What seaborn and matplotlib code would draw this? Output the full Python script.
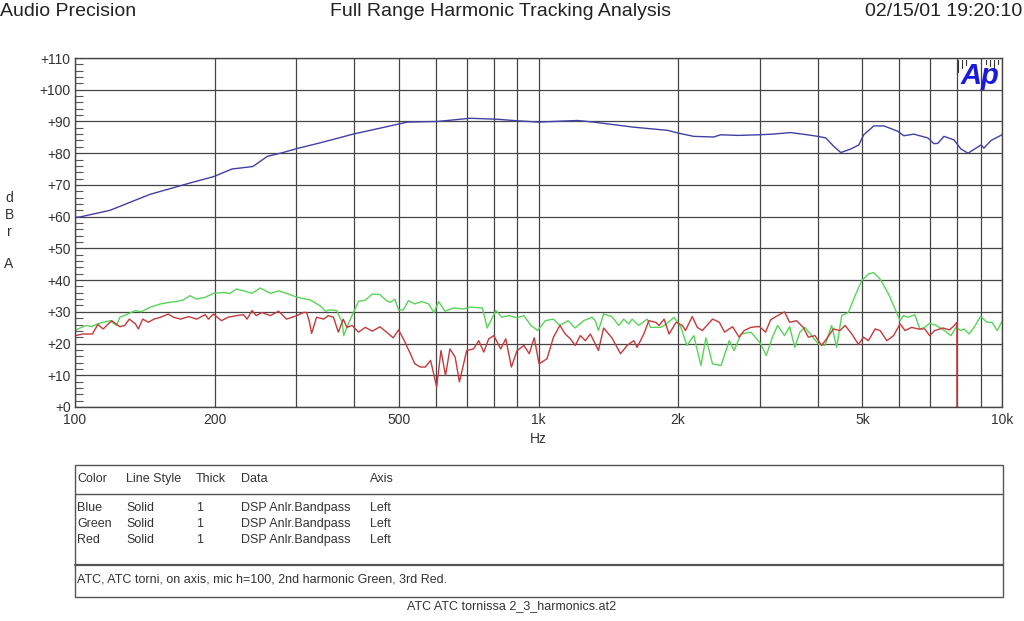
import numpy as np
import pandas as pd
import matplotlib
matplotlib.use('Agg')
import matplotlib.pyplot as plt
import seaborn as sns
from matplotlib.lines import Line2D
from matplotlib.patches import Rectangle

# Fundamental (blue)
blue_freq = [100, 102.5, 119, 145, 177, 199, 218, 242, 260, 281, 302, 343, 398, 472, 521,
             606, 711, 815, 901, 998, 1214, 1314, 1604, 1899, 2006, 2162, 2388, 2473, 2700,
             2987, 3200, 3501, 3800, 4006, 4168, 4338, 4490, 4716, 4910, 5032, 5290, 5561,
             5960, 6140, 6453, 6920, 7130, 7271, 7494, 7875, 8155, 8450, 9010, 9140, 9470, 10000]
blue_db = [59.8, 59.9, 62.0, 67.0, 70.6, 72.6, 75.0, 75.8, 79.0, 80.2, 81.5, 83.5, 86.0, 88.4, 89.8,
           90.0, 91.0, 90.7, 90.2, 89.8, 90.3, 89.8, 88.2, 87.2, 86.3, 85.3, 85.1, 85.8, 85.6,
           85.8, 86.0, 86.5, 85.8, 85.3, 84.8, 82.1, 80.2, 81.3, 82.6, 85.8, 88.6, 88.6,
           86.9, 85.5, 86.0, 84.8, 83.0, 83.1, 85.3, 84.2, 81.3, 80.0, 82.6, 81.6, 84.0, 85.8]

# 2nd harmonic (green)
green_freq = [100, 102.5, 106, 108.6, 111, 115, 119, 123, 125, 129, 135, 139, 145, 153, 160, 166,
              171, 177, 183, 191, 199, 209, 216, 223, 231, 241, 251, 264, 275, 289, 301, 322,
              338, 347, 355, 367, 377, 380, 390, 402, 409, 423, 438, 455, 470, 479, 490, 499,
              511, 524, 541, 560, 579, 595, 609, 628, 656, 689, 711, 757, 775, 809, 834, 864,
              899, 930, 963, 996, 1034, 1077, 1112, 1158, 1200, 1251, 1304, 1326, 1347, 1382,
              1440, 1490, 1527, 1565, 1592, 1645, 1716, 1745, 1833, 1880, 1962, 2026, 2090,
              2163, 2241, 2297, 2374, 2477, 2579, 2643, 2733, 2873, 3014, 3100, 3196, 3280,
              3394, 3482, 3572, 3664, 3757, 3884, 4014, 4150, 4290, 4399, 4510, 4662, 4820,
              4982, 5150, 5281, 5458, 5691, 5880, 6027, 6128, 6279, 6486, 6647, 6812, 6981,
              7213, 7512, 7763, 7955, 8152, 8286, 8492, 8703, 8990, 9288, 9517, 9765, 10000]
green_db = [24.1, 24.9, 25.7, 25.3, 26.0, 26.7, 27.2, 25.7, 28.3, 29.1, 30.4, 30.0, 31.4, 32.5, 33.0, 33.3,
            33.7, 35.1, 34.0, 34.6, 35.8, 36.1, 35.8, 37.2, 36.6, 35.8, 37.5, 35.8, 36.6, 35.6, 34.6, 33.7,
            31.9, 30.2, 30.6, 30.4, 26.7, 22.5, 26.7, 30.9, 33.3, 33.7, 35.6, 35.4, 33.5, 33.0, 34.0, 30.6,
            30.6, 33.5, 32.5, 33.2, 32.5, 29.8, 33.2, 30.2, 31.2, 30.9, 31.5, 31.2, 24.9, 30.4, 28.3, 28.8,
            28.1, 28.8, 25.7, 24.1, 27.2, 27.7, 25.7, 27.2, 24.9, 27.2, 28.3, 27.2, 24.1, 29.3,
            28.5, 25.7, 27.7, 26.2, 27.7, 25.7, 27.7, 25.1, 25.1, 26.0, 28.3, 25.3, 19.4,
            22.5, 13.1, 21.8, 13.6, 13.1, 20.9, 17.8, 23.0, 23.6, 20.0, 16.2, 22.0, 25.7,
            22.5, 25.3, 18.8, 23.6, 25.1, 22.5, 19.9, 19.4, 25.7, 18.8, 28.8, 29.8, 35.1,
            39.8, 41.9, 42.4, 40.3, 35.6, 30.9, 27.2, 28.8, 28.3, 29.1, 24.6, 25.1, 26.4,
            25.7, 24.1, 22.5, 25.1, 24.1, 24.6, 23.0, 25.1, 28.5, 26.7, 26.7, 24.1, 27.0]

# 3rd harmonic (red)
red_freq = [100, 104, 109, 112, 115, 120, 125, 128, 131, 135, 137, 140, 144, 148, 153, 159, 163, 169,
            176, 183, 191, 194, 199, 207, 214, 223, 231, 235, 241, 246, 253, 264, 275, 286, 301, 311,
            316, 320, 324, 332, 344, 352, 361, 370, 379, 386, 396, 409, 423, 438, 455, 470, 486, 499,
            511, 529, 541, 556, 570, 585, 603, 616, 630, 644, 661, 675, 700, 724, 743, 762, 781, 801,
            829, 850, 874, 899, 930, 955, 979, 1003, 1043, 1077, 1112, 1142, 1171, 1200, 1231, 1262,
            1294, 1347, 1382, 1440, 1503, 1553, 1605, 1632, 1687, 1730, 1790, 1820, 1866, 1913, 1981,
            2043, 2075, 2146, 2201, 2257, 2374, 2456, 2520, 2622, 2710, 2779, 2873, 2993, 3090, 3168,
            3280, 3394, 3482, 3602, 3726, 3821, 3949, 4082, 4185, 4327, 4474, 4587, 4742, 4902, 5024,
            5150, 5323, 5458, 5644, 5835, 6027, 6178, 6381, 6594, 6812, 6981, 7155, 7454, 7700, 7891,
            7993, 7995]
red_db = [22.5, 23.0, 23.0, 26.0, 24.6, 27.2, 25.3, 25.7, 27.7, 26.2, 24.6, 27.7, 26.7, 27.7, 28.3, 29.3, 28.3, 27.7,
          28.5, 27.7, 29.1, 27.7, 29.3, 27.2, 28.3, 28.8, 29.1, 27.7, 30.4, 28.8, 29.8, 28.8, 30.2, 27.7, 28.8, 29.8,
          29.8, 27.2, 23.2, 28.3, 27.7, 28.8, 28.3, 23.6, 27.7, 25.1, 25.7, 23.6, 25.1, 23.9, 25.3, 23.6, 21.8, 24.3,
          21.5, 16.8, 13.6, 12.6, 12.6, 14.7, 6.3, 17.8, 9.9, 18.3, 15.7, 7.9, 17.8, 18.3, 20.9, 17.3, 21.5, 22.5,
          18.3, 21.5, 12.6, 17.8, 19.4, 16.8, 21.8, 13.6, 15.2, 22.0, 25.7, 23.0, 21.5, 19.4, 22.5, 20.9,
          23.0, 17.8, 24.9, 21.8, 16.8, 19.4, 20.9, 18.8, 23.0, 27.2, 26.7, 25.7, 27.7, 23.0, 26.7,
          25.7, 24.1, 28.5, 25.1, 24.1, 27.7, 26.7, 23.6, 25.3, 22.0, 24.1, 25.1, 25.4, 23.6, 27.5,
          28.8, 30.0, 26.7, 27.2, 25.1, 22.0, 22.5, 19.4, 21.5, 24.6, 24.1, 25.7, 23.0, 19.7, 22.0,
          20.9, 24.6, 24.1, 20.9, 22.5, 26.2, 24.1, 25.1, 24.6, 24.6, 22.5, 24.1, 24.9, 24.3, 25.7,
          26.7, -3.0]

x_ticks = [100, 200, 500, 1000, 2000, 5000, 10000]
x_tick_labels = ['100', '200', '500', '1k', '2k', '5k', '10k']
y_ticks = list(range(0, 111, 10))

series_names = ['Blue', 'Green', 'Red']
series_colors = ['#4040a4', '#58d458', '#c43a3a']

df = pd.concat([
    pd.DataFrame({'freq': blue_freq, 'db': blue_db, 'series': 'Blue'}),
    pd.DataFrame({'freq': green_freq, 'db': green_db, 'series': 'Green'}),
    pd.DataFrame({'freq': red_freq, 'db': red_db, 'series': 'Red'}),
], ignore_index=True)

sns.set_theme(style='white')
plt.rcParams['font.family'] = ['Liberation Sans', 'DejaVu Sans']

fig = plt.figure(figsize=(10.24, 6.21), dpi=100)
W, H = 1024, 621
ax = fig.add_axes([75 / W, 1 - 407 / H, (1002 - 75) / W, (407 - 58) / H])

sns.lineplot(data=df, x='freq', y='db', hue='series', hue_order=series_names,
             palette=dict(zip(series_names, series_colors)), estimator=None, sort=False,
             linewidth=1.0, legend=False, ax=ax)

ax.set_xscale('log')
ax.set_xlim(100, 10000)
ax.set_ylim(0, 110)

# grid lines at every 1-2-3...9 of each decade
grid_x = [m * d for d in (100, 1000) for m in range(1, 10)] + [10000]
for gx in grid_x:
    ax.axvline(gx, color='#454545', lw=0.9, zorder=0)
for gy in y_ticks:
    ax.axhline(gy, color='#454545', lw=0.9, zorder=0)

ax.xaxis.set_major_locator(matplotlib.ticker.FixedLocator(x_ticks))
ax.xaxis.set_major_formatter(matplotlib.ticker.FixedFormatter(x_tick_labels))
ax.xaxis.set_minor_locator(matplotlib.ticker.NullLocator())
ax.set_yticks(y_ticks)
ax.set_yticklabels(['+%d' % v for v in y_ticks])
ax.yaxis.set_minor_locator(matplotlib.ticker.MultipleLocator(2))
ax.tick_params(axis='x', length=0, pad=4, labelsize=10, colors='#333333')
ax.tick_params(axis='y', which='major', length=0, pad=3, labelsize=10, colors='#333333')
ax.tick_params(axis='y', which='minor', left=True, direction='in', length=6, width=0.8, color='#555555')
ax.set_xlabel('')
ax.set_ylabel('')
for s in ax.spines.values():
    s.set_color('#454545')
    s.set_linewidth(1.0)

# header
fig.text(0 / W, 1 - 11 / H, 'Audio Precision', fontsize=14, va='center', ha='left', color='#222222')
fig.text(500 / W, 1 - 11 / H, 'Full Range Harmonic Tracking Analysis', fontsize=14, va='center',
         ha='center', color='#222222')
fig.text(1022 / W, 1 - 11 / H, '02/15/01 19:20:10', fontsize=14, va='center', ha='right', color='#222222')

# axis labels
for letter, ly in zip(['d', 'B', 'r', 'A'], [198, 215, 232, 264]):
    fig.text(9 / W, 1 - ly / H, letter, fontsize=10, ha='center', va='center', color='#333333')
fig.text(538 / W, 1 - 439 / H, 'Hz', fontsize=10, ha='center', va='center', color='#333333')

# Ap logo with its little scale marks
for tx, tl in zip([958, 962, 966, 986, 990, 994, 998], [12, 8, 5, 4, 6, 8, 4]):
    fig.lines.append(Line2D([tx / W, tx / W], [1 - 60 / H, 1 - (60 + tl) / H],
                            transform=fig.transFigure, color='#333333', lw=0.8))
fig.text(980 / W, 1 - 76 / H, 'Ap', fontsize=21, fontweight='bold', fontstyle='italic',
         color='#1a1adc', ha='center', va='center')

# legend table
def fx(px):
    return px / W

def fy(py):
    return 1 - py / H

fig.patches.append(Rectangle((fx(75), fy(597)), fx(1003) - fx(75), fy(465) - fy(597),
                             transform=fig.transFigure, fill=False, edgecolor='#555555', lw=1.0))
fig.lines.append(Line2D([fx(75), fx(1003)], [fy(494), fy(494)], transform=fig.transFigure,
                        color='#555555', lw=1.0))
fig.lines.append(Line2D([fx(75), fx(1003)], [fy(565), fy(565)], transform=fig.transFigure,
                        color='#555555', lw=1.6))

col_x = [77, 126, 196, 241, 370]
header = ['Color', 'Line Style', 'Thick', 'Data', 'Axis']
for cx, txt in zip(col_x, header):
    fig.text(fx(cx), fy(479), txt, fontsize=9, va='center', ha='left', color='#333333')
for row_y, name in zip([508, 524, 540], series_names):
    row = [name, 'Solid', '1', 'DSP Anlr.Bandpass', 'Left']
    for cx, txt in zip(col_x, row):
        fig.text(fx(cx), fy(row_y), txt, fontsize=9, va='center', ha='left', color='#333333')

fig.text(fx(77), fy(579), 'ATC, ATC torni, on axis, mic h=100, 2nd harmonic Green, 3rd Red.',
         fontsize=9, va='center', ha='left', color='#333333')
fig.text(fx(512), fy(606), 'ATC ATC tornissa 2_3_harmonics.at2', fontsize=9, va='center',
         ha='center', color='#333333')

fig.savefig('out.png', dpi=100, facecolor='white')
